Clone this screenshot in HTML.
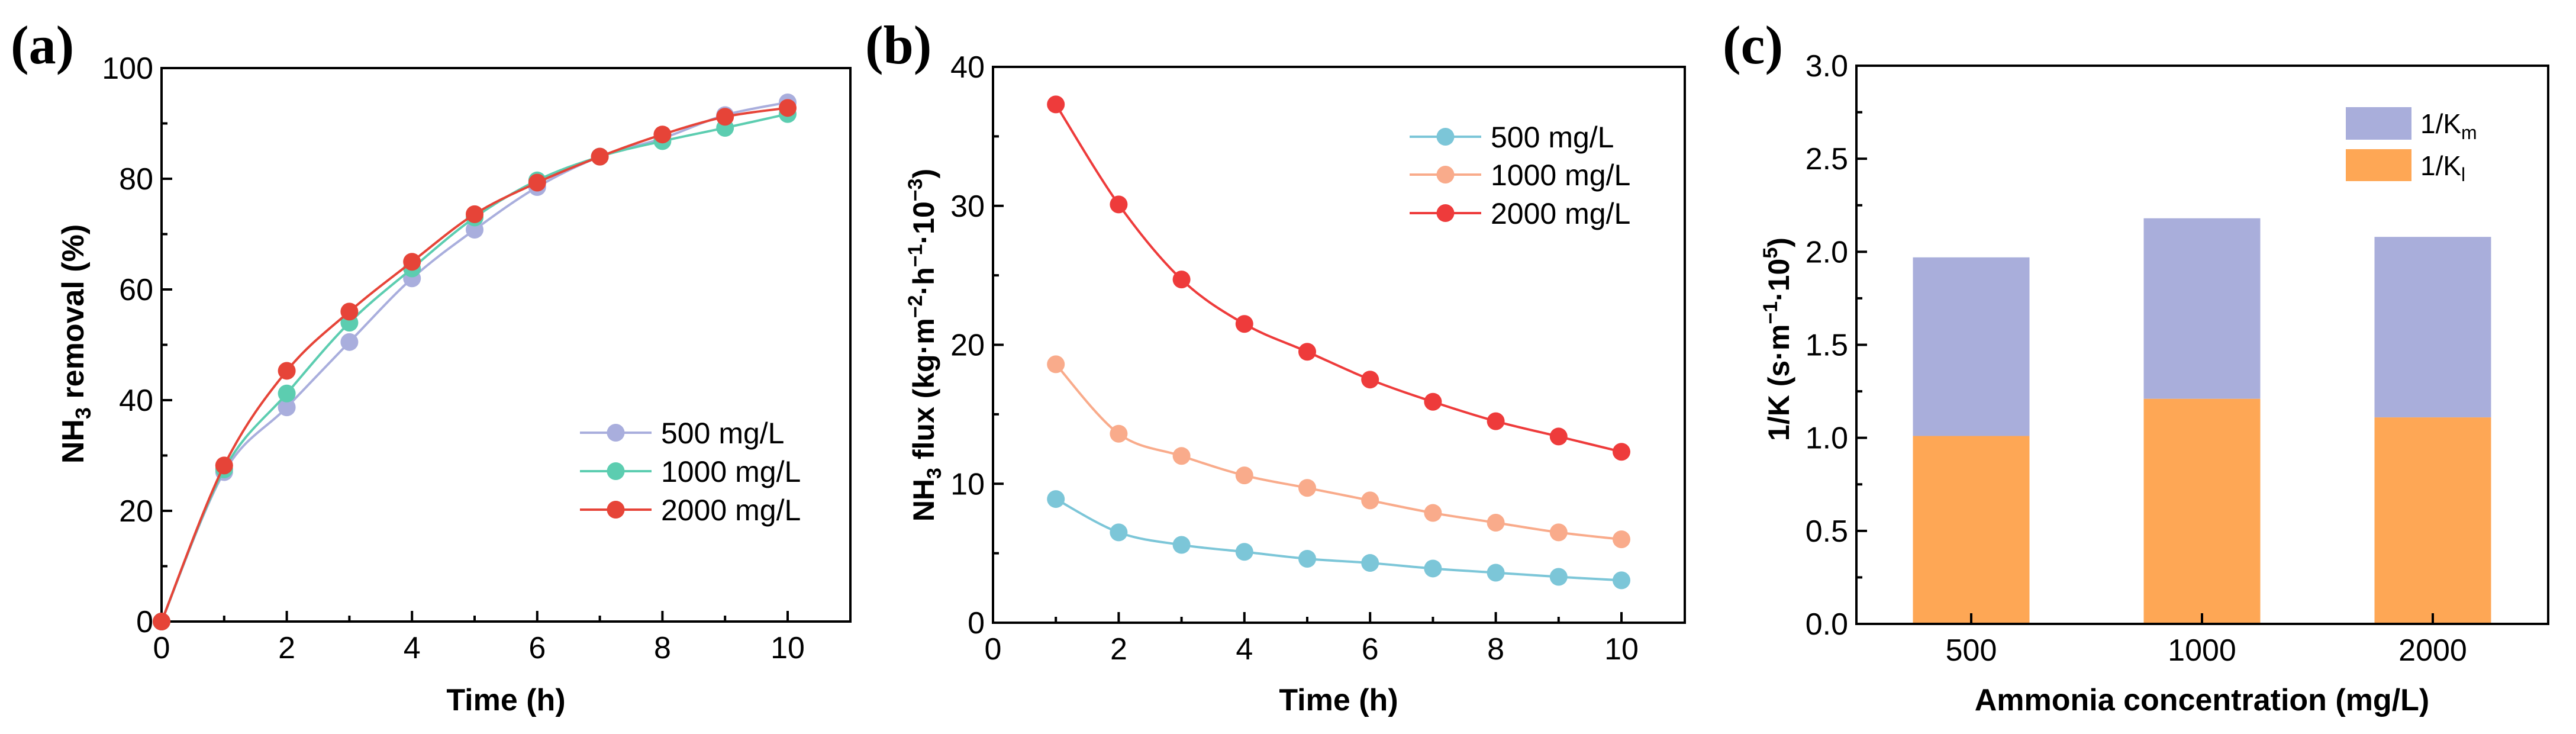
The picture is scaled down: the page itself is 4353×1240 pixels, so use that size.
<!DOCTYPE html>
<html><head><meta charset="utf-8">
<style>
html,body{margin:0;padding:0;background:#fff;}
svg{display:block;font-family:"Liberation Sans",Arial,sans-serif;}
</style></head>
<body>
<svg id="fig" width="4353" height="1240" viewBox="0 0 4353 1240" xmlns="http://www.w3.org/2000/svg">
<text x="18" y="107" font-family="Liberation Serif, serif" font-weight="bold" font-size="92">(a)</text>
<text x="1462" y="107" font-family="Liberation Serif, serif" font-weight="bold" font-size="92">(b)</text>
<text x="2911" y="107" font-family="Liberation Serif, serif" font-weight="bold" font-size="92">(c)</text>

<text transform="translate(141,581) rotate(-90)" text-anchor="middle" font-weight="bold" font-size="52">NH<tspan font-size="36" dy="12">3</tspan><tspan dy="-12"> removal (%)</tspan></text>
<text x="855" y="1200" text-anchor="middle" font-weight="bold" font-size="52">Time (h)</text>

<text transform="translate(1578,583) rotate(-90)" text-anchor="middle" font-weight="bold" font-size="50">NH<tspan font-size="34" dy="12">3</tspan><tspan dy="-12"> flux (kg·m</tspan><tspan font-size="34" dy="-20">−2</tspan><tspan dy="20">·h</tspan><tspan font-size="34" dy="-20">−1</tspan><tspan dy="20">·10</tspan><tspan font-size="34" dy="-20">−3</tspan><tspan dy="20">)</tspan></text>
<text x="2262" y="1200" text-anchor="middle" font-weight="bold" font-size="52">Time (h)</text>

<text transform="translate(3023,573) rotate(-90)" text-anchor="middle" font-weight="bold" font-size="50">1/K (s·m<tspan font-size="34" dy="-20">−1</tspan><tspan dy="20">·10</tspan><tspan font-size="34" dy="-20">5</tspan><tspan dy="20">)</tspan></text>
<text x="3721" y="1200" text-anchor="middle" font-weight="bold" font-size="52">Ammonia concentration (mg/L)</text>

<g id="ga"></g><g id="gb"></g><g id="gc"></g>
</svg>
<script>
// Panel a data
const timeA = [0,1,2,3,4,5,6,7,8,9,10];
const removal500 = [0,27,38.7,50.5,62,70.8,78.5,84,87.3,91.5,93.8];
const removal1000 = [0,27.5,41.2,54,63.8,73,79.7,84,86.8,89.2,91.7];
const removal2000 = [0,28.2,45.3,56,65,73.6,79.3,84,88,91.2,92.8];
const ticksAx = [0,2,4,6,8,10];
const ticksAy = [0,20,40,60,80,100];
// Panel b data
const timeB = [1,2,3,4,5,6,7,8,9,10];
const flux500 = [8.9,6.5,5.6,5.1,4.6,4.3,3.9,3.6,3.3,3.05];
const flux1000 = [18.6,13.6,12.0,10.6,9.7,8.8,7.9,7.2,6.5,6.0];
const flux2000 = [37.3,30.1,24.7,21.5,19.5,17.5,15.9,14.5,13.4,12.3];
const ticksBx = [0,2,4,6,8,10];
const ticksBy = [0,10,20,30,40];
// Panel c data
const concCats = ["500","1000","2000"];
const invKl = [1.01,1.21,1.11];
const invKm = [0.96,0.97,0.97];
const ticksCy = [0.0,0.5,1.0,1.5,2.0,2.5,3.0];
const legendA = ["500 mg/L","1000 mg/L","2000 mg/L"];

const NS="http://www.w3.org/2000/svg";
function mk(parent,tag,attrs){const e=document.createElementNS(NS,tag);for(const k in attrs)e.setAttribute(k,attrs[k]);parent.appendChild(e);return e;}
function spline(pts){let d=`M${pts[0][0]},${pts[0][1]}`;for(let i=0;i<pts.length-1;i++){const p0=pts[Math.max(i-1,0)],p1=pts[i],p2=pts[i+1],p3=pts[Math.min(i+2,pts.length-1)];const c1=[p1[0]+(p2[0]-p0[0])/6,p1[1]+(p2[1]-p0[1])/6],c2=[p2[0]-(p3[0]-p1[0])/6,p2[1]-(p3[1]-p1[1])/6];d+=` C${c1[0]},${c1[1]} ${c2[0]},${c2[1]} ${p2[0]},${p2[1]}`;}return d;}

function frame(g,L,R,T,B,name){
  const r=mk(g,'rect',{x:L,y:T,width:R-L,height:B-T,fill:'none',stroke:'#000','stroke-width':4});
  
  
}
function yAxis(g,L,yf,ticks,minorStep,fmt,name){
  ticks.forEach((v,i)=>{
    const y=yf(v);
    const t=mk(g,'line',{x1:L,x2:L+18,y1:y,y2:y,stroke:'#000','stroke-width':4});
    
    
    const tx=mk(g,'text',{x:L-14,y:y+18,'text-anchor':'end','font-size':52});
    
    
    tx.textContent=fmt(v);
    if(i<ticks.length-1){const ym=yf(v+minorStep);
      const m=mk(g,'line',{x1:L,x2:L+10,y1:ym,y2:ym,stroke:'#000','stroke-width':4});
      
      }
  });
}
function xAxis(g,B,xf,ticks,minorStep,name){
  ticks.forEach((v,i)=>{
    const x=xf(v);
    const t=mk(g,'line',{x1:x,x2:x,y1:B,y2:B-18,stroke:'#000','stroke-width':4});
    
    
    const tx=mk(g,'text',{x:x,y:B+62,'text-anchor':'middle','font-size':52});
    
    
    tx.textContent=v;
    if(i<ticks.length-1){const xm=xf(v+minorStep);
      const m=mk(g,'line',{x1:xm,x2:xm,y1:B,y2:B-10,stroke:'#000','stroke-width':4});
      
      }
  });
}
function series(g,xs,ys,xf,yf,color,name){
  const pts=xs.map((x,i)=>[xf(x),yf(ys[i])]);
  const p=mk(g,'path',{d:spline(pts),fill:'none',stroke:color,'stroke-width':4});
  
  
  pts.forEach(q=>{const c=mk(g,'circle',{cx:q[0],cy:q[1],r:15,fill:color});
    
    });
}
function legendLines(g,x0,x1,ys,colors,labels,name){
  labels.forEach((lab,i)=>{
    const y=ys[i];
    const l=mk(g,'line',{x1:x0,x2:x1,y1:y,y2:y,stroke:colors[i],'stroke-width':4});
    
    
    const c=mk(g,'circle',{cx:(x0+x1)/2,cy:y,r:15,fill:colors[i]});
    
    
    const t=mk(g,'text',{x:x1+16,y:y+18,'font-size':50});
    
    
    t.textContent=lab;
  });
}

// Panel a
(function(){
  const g=document.getElementById('ga');
  const L=273,R=1437,T=115,B=1050,X0=273,X10=1331;
  const xf=v=>X0+(X10-X0)*v/10, yf=v=>B-(B-T)*v/100;
  frame(g,L,R,T,B,'panel-a');
  yAxis(g,L,yf,ticksAy,10,v=>v,'panel-a');
  xAxis(g,B,xf,ticksAx,1,'panel-a');
  const cols=['#a9aedd','#5ccdb0','#e64438'];
  series(g,timeA,removal500,xf,yf,cols[0],'removal-500');
  series(g,timeA,removal1000,xf,yf,cols[1],'removal-1000');
  series(g,timeA,removal2000,xf,yf,cols[2],'removal-2000');
  legendLines(g,980,1101,[731,796,861],cols,legendA,'panel-a');
})();
// Panel b
(function(){
  const g=document.getElementById('gb');
  const L=1678,R=2847,T=113,B=1052,X0=1678,X10=2740;
  const xf=v=>X0+(X10-X0)*v/10, yf=v=>B-(B-T)*v/40;
  frame(g,L,R,T,B,'panel-b');
  yAxis(g,L,yf,ticksBy,5,v=>v,'panel-b');
  xAxis(g,B,xf,ticksBx,1,'panel-b');
  const cols=['#7cc6d8','#f9ab8b','#ee3b3b'];
  series(g,timeB,flux500,xf,yf,cols[0],'flux-500');
  series(g,timeB,flux1000,xf,yf,cols[1],'flux-1000');
  series(g,timeB,flux2000,xf,yf,cols[2],'flux-2000');
  legendLines(g,2382,2503,[231,295,360],cols,legendA,'panel-b');
})();
// Panel c
(function(){
  const g=document.getElementById('gc');
  const L=3137,R=4306,T=111,B=1054;
  const yf=v=>B-(B-T)*v/3;
  const centers=[3331,3721,4111], bw=197;
  concCats.forEach((c,i)=>{
    const cx=centers[i];
    const y1=yf(invKl[i]), y2=yf(invKl[i]+invKm[i]);
    const a=mk(g,'rect',{x:cx-bw/2,y:y1,width:bw,height:B-y1,fill:'#fea755'});
    
    
    const b=mk(g,'rect',{x:cx-bw/2,y:y2,width:bw,height:y1-y2,fill:'#a9aedb'});
    
    
  });
  frame(g,L,R,T,B,'panel-c');
  yAxis(g,L,yf,ticksCy,0.25,v=>v.toFixed(1),'panel-c');
  concCats.forEach((c,i)=>{
    const x=centers[i];
    const t=mk(g,'line',{x1:x,x2:x,y1:B,y2:B-18,stroke:'#000','stroke-width':4});
    
    
    const tx=mk(g,'text',{x:x,y:B+62,'text-anchor':'middle','font-size':52});
    
    
    tx.textContent=c;
  });
  const lm=mk(g,'rect',{x:3964,y:181,width:111,height:55,fill:'#a9aedb'});
  
  
  const ll=mk(g,'rect',{x:3964,y:252,width:111,height:54,fill:'#fea755'});
  
  
  const t1=mk(g,'text',{x:4090,y:225,'font-size':46});
  
  
  t1.innerHTML='1/K<tspan font-size="32" dy="10">m</tspan>';
  const t2=mk(g,'text',{x:4090,y:296,'font-size':46});
  
  
  t2.innerHTML='1/K<tspan font-size="32" dy="10">l</tspan>';
})();
</script>
</body></html>
